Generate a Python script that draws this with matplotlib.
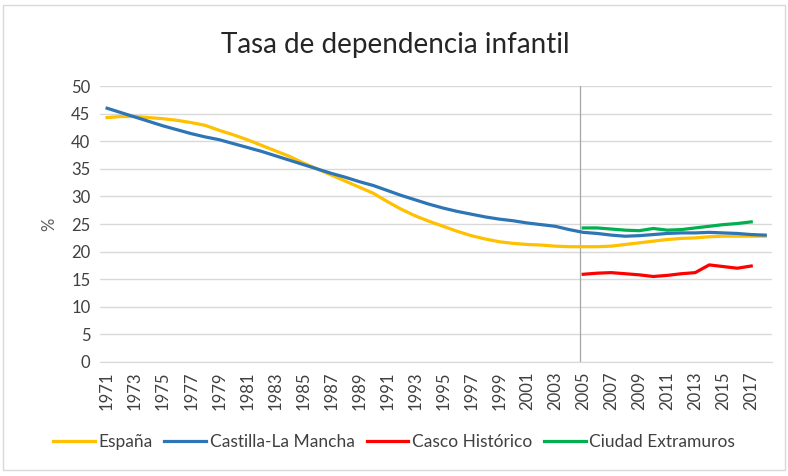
import numpy as np
import matplotlib.pyplot as plt
from matplotlib.patches import Rectangle

plt.rcParams['font.family'] = ['Lato', 'DejaVu Sans']

years = list(range(1971, 2019))

espana = [44.3, 44.5, 44.5, 44.3, 44.1, 43.8, 43.4, 42.9, 42.0, 41.2,
          40.3, 39.3, 38.3, 37.3, 36.1, 35.0, 33.9, 32.8, 31.7, 30.6,
          29.1, 27.7, 26.5, 25.5, 24.6, 23.7, 22.9, 22.3, 21.8, 21.5,
          21.3, 21.2, 21.0, 20.9, 20.9, 20.9, 21.0, 21.3, 21.6, 21.9,
          22.2, 22.4, 22.5, 22.7, 22.8, 22.8, 22.8, 22.8]

castilla = [46.0, 45.2, 44.4, 43.6, 42.8, 42.1, 41.4, 40.8, 40.3, 39.6,
            38.9, 38.2, 37.4, 36.6, 35.8, 35.0, 34.2, 33.5, 32.7, 32.0,
            31.1, 30.2, 29.4, 28.6, 27.9, 27.3, 26.8, 26.3, 25.9, 25.6,
            25.2, 24.9, 24.6, 24.0, 23.5, 23.3, 23.0, 22.8, 22.9, 23.1,
            23.3, 23.4, 23.4, 23.5, 23.4, 23.3, 23.1, 23.0]

# municipal series only from 2005 to 2017
years_local = list(range(2005, 2018))
casco = [15.9, 16.1, 16.2, 16.0, 15.8, 15.5, 15.7, 16.0, 16.2, 17.6, 17.3, 17.0, 17.4]
extramuros = [24.3, 24.3, 24.1, 23.9, 23.8, 24.2, 23.9, 24.0, 24.3, 24.6, 24.9, 25.1, 25.4]

x_all = np.arange(len(years))
x_local = np.array([years.index(y) for y in years_local])

fig = plt.figure(figsize=(7.88, 4.76), dpi=100)
fig.patches.append(Rectangle((0.004, 0.012), 0.992, 0.978, transform=fig.transFigure,
                             fill=False, edgecolor='#d9d9d9', linewidth=1))
ax = fig.add_axes([0.127, 0.2395, 0.853, 0.5795])

ax.plot(x_all, espana, color='#FFC000', lw=2.3, label='España')
ax.plot(x_all, castilla, color='#2E75B6', lw=2.3, label='Castilla-La Mancha')
ax.plot(x_local, casco, color='#FF0000', lw=2.3, label='Casco Histórico')
ax.plot(x_local, extramuros, color='#00B050', lw=2.3, label='Ciudad Extramuros')

ax.axvline(years.index(2005) - 0.2, color='#a6a6a6', lw=0.9, zorder=1)

ax.set_xlim(-0.5, len(years) - 0.5)
ax.set_ylim(0, 50)
ax.set_yticks(range(0, 51, 5))
ax.set_xticks(x_all[::2])
ax.set_xticklabels([str(y) for y in years[::2]], rotation=90)
ax.tick_params(axis='both', length=0, labelsize=12, colors='#404040', pad=7)
ax.yaxis.grid(True, color='#d9d9d9', lw=1)
ax.set_axisbelow(True)
for s in ['top', 'right', 'left']:
    ax.spines[s].set_visible(False)
ax.spines['bottom'].set_color('#d9d9d9')

ax.set_ylabel('%', fontsize=12, color='#595959', labelpad=10)
fig.text(0.502, 0.905, 'Tasa de dependencia infantil', ha='center', va='center',
         fontsize=20, color='#262626')

fig.legend(loc='center', bbox_to_anchor=(0.5, 0.072), ncol=4, frameon=False,
           fontsize=12.5, handlelength=2.4, handletextpad=0.2, columnspacing=0.7,
           labelcolor='#404040')

fig.savefig('out.png', dpi=100)
